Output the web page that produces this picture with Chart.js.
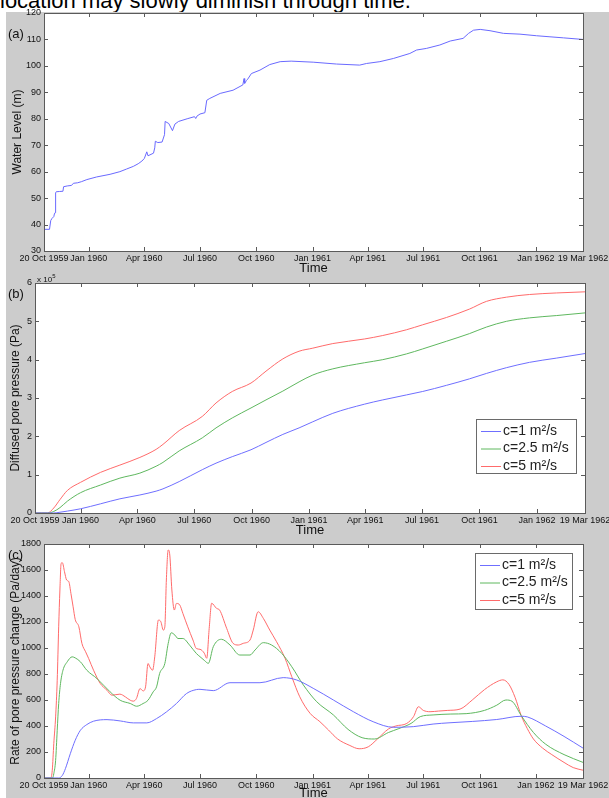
<!DOCTYPE html>
<html>
<head>
<meta charset="utf-8">
<script src="https://cdn.jsdelivr.net/npm/chart.js@4.4.1/dist/chart.umd.min.js"></script>
<style>
  body { margin: 0; width: 609px; height: 798px; overflow: hidden; background: #fff; position: relative; font-family: Arial, "Liberation Sans", sans-serif; }
  #caption { position: absolute; left: 0; top: -10px; font-size: 22px; line-height: 22px; color: #000; white-space: nowrap; }
  #fig { position: absolute; left: 6px; top: 12px; width: 603px; height: 786px; background: #cccccc; }
  canvas { position: absolute; left: 0; }
  .lab { position: absolute; font-size: 13px; line-height: 13px; color: #111; }
  .exp { position: absolute; font-size: 8px; line-height: 8px; color: #111; }
</style>
</head>
<body>
<div id="caption">location may slowly diminish through time.</div>
<div id="fig"></div>
<canvas id="chartA" width="609" height="276" style="top:0px"></canvas>
<canvas id="chartB" width="609" height="264" style="top:276px"></canvas>
<canvas id="chartC" width="609" height="262" style="top:540px"></canvas>
<div class="lab" style="left:8px;top:27px">(a)</div>
<div class="lab" style="left:8px;top:287px">(b)</div>
<div class="lab" style="left:8px;top:548px">(c)</div>
<div class="exp" style="left:37px;top:272px">x 10<sup style="font-size:6px">5</sup></div>
<script>
// days counted from 20 Oct 1959
var tickDays = [0, 73, 164, 255, 347, 439, 529, 620, 712, 804, 881];
var tickLabels = ['20 Oct 1959', 'Jan 1960', 'Apr 1960', 'Jul 1960', 'Oct 1960', 'Jan 1961',
                  'Apr 1961', 'Jul 1961', 'Oct 1961', 'Jan 1962', '19 Mar 1962'];

// (a) water level (m)
var levelDays = [0, 9, 11, 13, 16, 17, 18, 19, 20, 25, 31, 32, 38, 45, 48, 55, 61, 70, 86, 108, 124, 135, 146,
                 154, 160, 164, 168, 170, 179, 181, 182, 186, 193, 197, 198, 204, 210, 214, 220, 234, 246, 248,
                 250, 255, 263, 266, 271, 288, 309, 325, 327, 328, 331, 333, 339, 353, 369, 386, 404, 440, 478,
                 516, 527, 549, 571, 598, 609, 625, 647, 664, 685, 694, 702, 713, 729, 751, 778, 805, 827, 849, 881];
var levelValues = [38.2, 38.2, 41.5, 42.3, 43, 44, 44.5, 52, 52.4, 52.5, 52.6, 54.3, 54.6, 54.8, 55.6, 55.8, 56.2,
                   57, 58, 59, 60, 61, 62, 63, 64, 65, 67.5, 66, 67, 69, 71.5, 71, 71.2, 74, 79, 78.2, 75.5, 78,
                   79, 80, 80.8, 80.1, 81, 81.8, 82.3, 87, 87.7, 89.6, 90.8, 92.8, 95.2, 93.4, 94.5, 95, 97.1,
                   98.4, 100.5, 101.6, 101.8, 101.4, 100.7, 100.3, 100.9, 101.6, 102.8, 104.7, 106, 106.6, 107.9,
                   109.4, 110.4, 112.3, 113.5, 113.8, 113.3, 112.3, 112, 111.4, 111, 110.6, 110];

// (b) diffused pore pressure (Pa)
var pressureDays = [0, 10, 20, 30, 40, 52, 73, 105, 136, 168, 194, 205, 231, 268, 290, 316, 346, 370, 397, 423,
                    445, 477, 528, 557, 595, 621, 659, 696, 723, 755, 792, 835, 881];
var pressureC1 = [0, 0, 0, 0, 2000, 5000, 11000, 24000, 37000, 47000, 57000, 63000, 82000, 113000, 130000, 147000,
                  165000, 184000, 205000, 222000, 238000, 260000, 284000, 295000, 308000, 317000, 333000, 350000,
                  364000, 379000, 393000, 404000, 416000];
var pressureC25 = [0, 0, 0, 4000, 14000, 31000, 53000, 73000, 91000, 104000, 122000, 132000, 162000, 196000, 222000,
                   248000, 274000, 295000, 318000, 342000, 360000, 376000, 392000, 400000, 415000, 428000, 448000,
                   468000, 485000, 500000, 509000, 515000, 522000];
var pressureC5 = [0, 0, 0, 13000, 35000, 59000, 80000, 106000, 125000, 145000, 166000, 179000, 215000, 252000,
                  287000, 317000, 339000, 370000, 402000, 422000, 430000, 442000, 454000, 463000, 478000, 491000,
                  510000, 532000, 552000, 563000, 570000, 574000, 577000];

// (c) rate of pore pressure change (Pa/day)
var rateDaysC1 = [0, 24, 30, 35, 43, 51, 59.5, 70, 81, 103, 124.5, 146, 168, 184, 200, 216.5, 233, 249, 255, 276.7,
                  304, 353, 391, 413, 440, 473, 505.6, 538, 571, 603.6, 636, 663.6, 700, 740, 780, 790, 820, 850, 881];
var rateC1 = [0, 0, 20, 72, 187, 290, 367, 411, 437, 449, 439, 424, 424, 457, 508, 573, 650, 680, 682, 672, 733,
              733, 772, 754, 690, 600, 510, 433, 390, 395, 415, 425, 435, 450, 475, 470, 400, 320, 230];
var rateDaysC25 = [0, 14, 16, 19, 21.6, 24, 27, 31, 38, 46, 51, 59.5, 70, 86.6, 108, 124.5, 141, 151.5, 162, 170,
                   178.5, 184, 189, 197.5, 203, 208, 214, 219, 227, 238, 249, 255, 262, 268.6, 276.7, 290, 304,
                   320, 336.7, 345, 358.5, 372, 388.5, 405, 424, 445.7, 473, 497, 520, 540, 563, 580, 600, 615,
                   636, 665, 690, 720, 740, 755, 765, 780, 800, 820, 850, 881];
var rateC25 = [0, 0, 33, 136, 367, 573, 727, 829, 894, 932, 924, 894, 829, 765, 663, 598, 573, 552, 573, 598, 663,
               701, 804, 881, 1035, 1117, 1099, 1073, 1073, 1022, 958, 933, 905, 882, 1010, 1067, 1023, 946, 946,
               985, 1041, 1023, 959, 856, 715, 587, 485, 374, 310, 300, 350, 380, 420, 472, 485, 492, 495, 520,
               560, 600, 590, 480, 350, 260, 180, 120];
var rateDaysC5 = [0, 11, 13.5, 16, 19, 21.6, 24, 26, 28, 30, 33.5, 37, 40.6, 44, 47.6, 51, 57, 62, 68, 73, 81, 92,
                  103, 111, 124, 133, 141, 146, 151, 157, 162, 166, 170, 173, 177.5, 181, 187, 191, 195, 197.5,
                  200, 203, 205.6, 209, 213, 216.5, 222, 227, 235, 243.5, 249, 255, 262, 266, 270, 274, 282, 287,
                  298.6, 309, 317.6, 325.8, 336.7, 342, 350, 358.5, 369, 380, 394, 405, 418, 435, 451, 465, 480,
                  500, 515, 530, 545, 563, 575, 593, 604, 612, 620, 631, 645, 660, 680, 700, 720, 740, 750, 760,
                  770, 780, 790, 800, 815, 830, 850, 865, 881];
var rateC5 = [0, 0, 59, 264, 470, 752, 1163, 1446, 1651, 1656, 1587, 1523, 1510, 1420, 1317, 1220, 1163, 1035, 971,
              919, 829, 727, 675, 637, 645, 624, 598, 591, 611, 688, 670, 701, 881, 855, 829, 932, 1215, 1202, 1138,
              1163, 1523, 1754, 1715, 1446, 1292, 1343, 1330, 1266, 1163, 1061, 996, 990, 960, 921, 1150, 1344,
              1305, 1292, 1151, 1036, 1023, 1036, 1061, 1138, 1279, 1228, 1138, 1049, 921, 779, 625, 497, 433,
              369, 300, 250, 225, 240, 300, 377, 400, 420, 472, 548, 520, 510, 515, 520, 530, 600, 680, 740, 755,
              720, 620, 480, 380, 300, 230, 180, 120, 80, 60];

var seriesLabels = ['c=1 m\u00b2/s', 'c=2.5 m\u00b2/s', 'c=5 m\u00b2/s'];
var blue = '#6f6fff', green = '#5fb85f', red = '#ff6b6b';

function pts(days, vals) {
    return days.map(function(d, i) { return {x: d, y: vals[i]}; });
}

// matlab style box: white axes, ticks pointing inwards, legend inside
var framePlugin = {
    id: 'frame',
    beforeDraw: function(chart) {
        var a = chart.chartArea, ctx = chart.ctx;
        ctx.save();
        ctx.fillStyle = '#ffffff';
        ctx.fillRect(a.left, a.top, a.right - a.left, a.bottom - a.top);
        ctx.restore();
    },
    afterDraw: function(chart, args, opts) {
        var a = chart.chartArea, ctx = chart.ctx;
        var xs = chart.scales.x, ys = chart.scales.y;
        ctx.save();
        ctx.strokeStyle = '#5a5a5a';
        ctx.lineWidth = 1;
        ctx.beginPath();
        xs.ticks.forEach(function(t) {
            var px = Math.round(xs.getPixelForValue(t.value)) + 0.5;
            ctx.moveTo(px, a.bottom); ctx.lineTo(px, a.bottom - 4);
            ctx.moveTo(px, a.top); ctx.lineTo(px, a.top + 4);
        });
        ys.ticks.forEach(function(t) {
            var py = Math.round(ys.getPixelForValue(t.value)) + 0.5;
            ctx.moveTo(a.left, py); ctx.lineTo(a.left + 4, py);
            ctx.moveTo(a.right, py); ctx.lineTo(a.right - 4, py);
        });
        ctx.stroke();
        ctx.strokeRect(Math.round(a.left) + 0.5, Math.round(a.top) + 0.5,
                       Math.round(a.right - a.left), Math.round(a.bottom - a.top));

        if (opts.legend) {
            var L = opts.legend;
            ctx.fillStyle = '#ffffff';
            ctx.fillRect(L.x, L.y, L.w, L.h);
            ctx.strokeStyle = '#6a6a6a';
            ctx.strokeRect(L.x + 0.5, L.y + 0.5, L.w, L.h);
            ctx.font = '14px Arial, "Liberation Sans"';
            ctx.textBaseline = 'middle';
            chart.data.datasets.forEach(function(ds, i) {
                var yy = L.y + 12 + i * 17.5;
                ctx.strokeStyle = ds.borderColor;
                ctx.beginPath();
                ctx.moveTo(L.x + 5, yy + 0.5); ctx.lineTo(L.x + 25, yy + 0.5);
                ctx.stroke();
                ctx.fillStyle = '#222';
                ctx.fillText(ds.label, L.x + 27, yy);
            });
        }
        ctx.restore();
    }
};

function makeChart(id, o) {
    var tickFont = {family: 'Arial, "Liberation Sans"', size: 9};
    return new Chart(document.getElementById(id).getContext('2d'), {
        type: 'line',
        data: {datasets: o.datasets},
        options: {
            responsive: false,
            animation: false,
            layout: {padding: {top: o.top, right: o.right, left: 0, bottom: 0}},
            elements: {point: {radius: 0}, line: {borderWidth: 1}},
            plugins: {legend: {display: false}, tooltip: {enabled: false}, frame: {legend: o.legend}},
            scales: {
                x: {
                    type: 'linear', min: 0, max: 881,
                    grid: {display: false, drawTicks: false}, border: {display: false},
                    afterBuildTicks: function(s) { s.ticks = tickDays.map(function(d) { return {value: d}; }); },
                    afterFit: function(s) { s.height = o.xHeight; s.paddingLeft = 0; s.paddingRight = 0; },
                    ticks: {autoSkip: false, maxRotation: 0, padding: 2, color: '#111', font: tickFont,
                            callback: function(v, i) { return tickLabels[i]; }},
                    title: {display: true, text: 'Time', color: '#111', padding: {top: 0, bottom: o.timePad},
                            font: {family: 'Arial, "Liberation Sans"', size: 13, lineHeight: 1}}
                },
                y: {
                    min: o.yMin, max: o.yMax,
                    grid: {display: false, drawTicks: false}, border: {display: false},
                    afterFit: function(s) { s.width = o.yWidth; s.paddingTop = 0; s.paddingBottom = 0; },
                    ticks: {stepSize: o.yStep, padding: 3, color: '#111', font: tickFont,
                            callback: o.yFmt || function(v) { return v; }},
                    title: {display: true, text: o.yTitle, color: '#111', padding: {top: o.titlePad, bottom: 0},
                            font: {family: 'Arial, "Liberation Sans"', size: 12, lineHeight: 1.2}}
                }
            }
        },
        plugins: [framePlugin]
    });
}

makeChart('chartA', {
    top: 13, right: 26, xHeight: 25, yWidth: 44, timePad: 1, titlePad: 10,
    yMin: 30, yMax: 120, yStep: 10, yTitle: 'Water Level (m)',
    datasets: [{label: 'Water level', data: pts(levelDays, levelValues), borderColor: '#6a6aff'}]
});

makeChart('chartB', {
    top: 7, right: 24, xHeight: 27, yWidth: 35, timePad: 3, titlePad: 8,
    yMin: 0, yMax: 600000, yStep: 100000, yTitle: 'Diffused pore pressure (Pa)',
    yFmt: function(v) { return v / 100000; },
    legend: {x: 476, y: 143, w: 100, h: 54},
    datasets: [
        {label: seriesLabels[0], data: pts(pressureDays, pressureC1), borderColor: blue, cubicInterpolationMode: 'monotone'},
        {label: seriesLabels[1], data: pts(pressureDays, pressureC25), borderColor: green, cubicInterpolationMode: 'monotone'},
        {label: seriesLabels[2], data: pts(pressureDays, pressureC5), borderColor: red, cubicInterpolationMode: 'monotone'}
    ]
});

makeChart('chartC', {
    top: 4, right: 26, xHeight: 24, yWidth: 44, timePad: 2, titlePad: 8,
    yMin: 0, yMax: 1800, yStep: 200, yTitle: 'Rate of pore pressure change (Pa/day)',
    legend: {x: 475, y: 13, w: 97, h: 56},
    datasets: [
        {label: seriesLabels[0], data: pts(rateDaysC1, rateC1), borderColor: blue, cubicInterpolationMode: 'monotone'},
        {label: seriesLabels[1], data: pts(rateDaysC25, rateC25), borderColor: green, cubicInterpolationMode: 'monotone'},
        {label: seriesLabels[2], data: pts(rateDaysC5, rateC5), borderColor: red, cubicInterpolationMode: 'monotone'}
    ]
});
</script>
</body>
</html>
